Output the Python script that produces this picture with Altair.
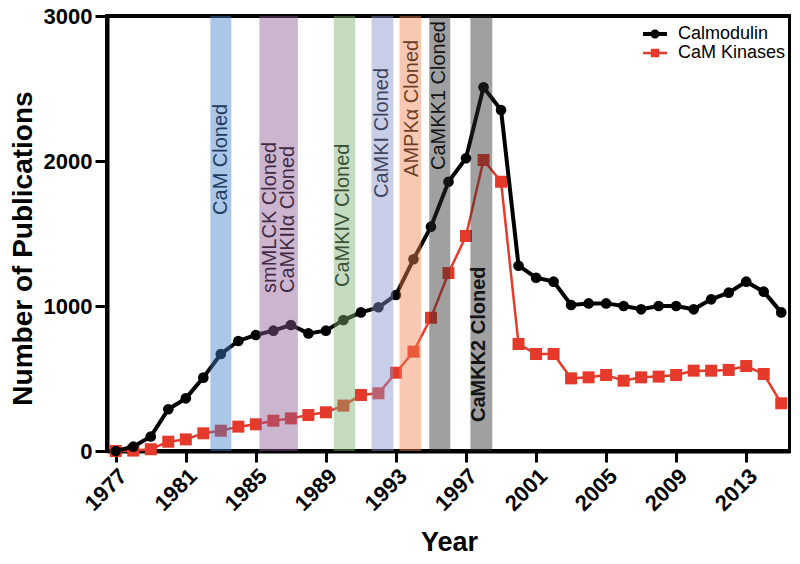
import altair as alt
import pandas as pd

# ---- data ----
years = list(range(1977, 2016))
calmodulin = [0, 30, 100, 288, 363, 506, 669, 759, 800, 830, 869, 811, 830, 903, 956, 991,
              1076, 1322, 1547, 1857, 2019, 2508, 2352, 1278, 1195, 1168, 1007, 1018, 1018,
              1000, 977, 1000, 1000, 977, 1046, 1092, 1168, 1099, 956]
cam_kinases = [0, 3, 12, 64, 80, 122, 140, 168, 184, 209, 225, 248, 267, 313, 386, 398,
               540, 685, 919, 1227, 1483, 2007, 1857, 738, 669, 669, 501, 508, 524,
               485, 508, 513, 524, 554, 554, 559, 586, 531, 329]

band_start = [1982.4, 1985.2, 1989.45, 1991.6, 1993.2, 1994.9, 1997.25]
band_end = [1983.6, 1987.4, 1990.67, 1992.85, 1994.44, 1996.1, 1998.5]
band_color = ["#4280cc", "#8b5b94", "#7eaf73", "#8592cc", "#ef8554", "#2c2c2c", "#2c2c2c"]

label_text = ["CaM Cloned", "smMLCK Cloned", "CaMKIIα Cloned", "CaMKIV Cloned",
              "CaMKI Cloned", "AMPKα Cloned", "CaMKK1 Cloned"]
label_x = [1983.0, 1985.78, 1986.81, 1989.95, 1992.23, 1993.94, 1995.48]
label_y = [1628, 1090, 1090, 1131, 1745, 1890, 1938]
bold_text = ["CaMKK2 Cloned"]
bold_x = [1997.77]
bold_y = [200]

series_names = ["Calmodulin", "CaM Kinases"]
series_colors = ["#000000", "#e53a2b"]
x_ticks = [1977, 1981, 1985, 1989, 1993, 1997, 2001, 2005, 2009, 2013]
y_ticks = [0, 1000, 2000, 3000]

FONT = "Liberation Sans"
RED = series_colors[1]

df_cal = pd.DataFrame({"Year": years, "Count": calmodulin, "Series": "Calmodulin"})
df_kin = pd.DataFrame({"Year": years, "Count": cam_kinases, "Series": "CaM Kinases"})
df_all = pd.concat([df_cal, df_kin])
df_band = pd.DataFrame({"start": band_start, "end": band_end, "color": band_color})
df_lab = pd.DataFrame({"label": label_text, "Year": label_x, "Count": label_y})
df_bold = pd.DataFrame({"label": bold_text, "Year": bold_x, "Count": bold_y})

xscale = alt.Scale(domain=[1976.5, 2015.5], nice=False, zero=False)
yscale = alt.Scale(domain=[0, 3000], nice=False)

xaxis = alt.Axis(values=x_ticks, format="d", labelAngle=-45, title="Year",
                 titleX=342, titleY=99, titleBaseline="alphabetic", titleAlign="center",
                 labelFontSize=22, labelFontWeight="bold", titleFontSize=27,
                 titleFontWeight="bold", tickSize=11, labelPadding=3, grid=False)
yaxis = alt.Axis(values=y_ticks, format="d", title="Number of Publications",
                 titleX=-76, titleY=232, titleBaseline="alphabetic", titleAlign="center",
                 titleAngle=270,
                 labelFontSize=22, labelFontWeight="bold", titleFontSize=28,
                 titleFontWeight="bold", tickSize=12, labelPadding=3, grid=False)

X = alt.X("Year:Q", scale=xscale, axis=xaxis)
Y = alt.Y("Count:Q", scale=yscale, axis=yaxis)

red_line = alt.Chart(df_kin).mark_line(color=RED, strokeWidth=2.5).encode(x=X, y=Y)
red_pts = alt.Chart(df_kin).mark_point(shape="square", filled=True, color=RED,
                                       size=144, opacity=1).encode(x=X, y=Y)
blk_line = alt.Chart(df_cal).mark_line(color="black", strokeWidth=4).encode(x=X, y=Y)
blk_pts = alt.Chart(df_cal).mark_point(shape="circle", filled=True, color="black",
                                       size=113, opacity=1).encode(x=X, y=Y)

labels = alt.Chart(df_lab).mark_text(angle=270, align="left", baseline="middle",
                                     font=FONT, fontSize=20, color="black").encode(
    x=X, y=Y, text="label:N")
bold_labels = alt.Chart(df_bold).mark_text(angle=270, align="left", baseline="middle",
                                           font=FONT, fontSize=20, fontWeight="bold",
                                           color="black").encode(
    x=X, y=Y, text="label:N")

bands = alt.Chart(df_band).mark_rect(fillOpacity=0.45, strokeWidth=0).encode(
    x=alt.X("start:Q", scale=xscale, axis=xaxis),
    x2="end:Q",
    fill=alt.Fill("color:N", scale=None),
)

circle_path = ("M-1.2,-0.2H1.2V0.2H-1.2Z "
               "M0.45,0A0.45,0.45,0,1,1,-0.45,0A0.45,0.45,0,1,1,0.45,0Z")
square_path = ("M-1.2,-0.12H1.2V0.12H-1.2Z "
               "M-0.42,-0.42H0.42V0.42H-0.42Z")

legend_layer = alt.Chart(df_all).transform_filter("false").mark_point(
    filled=True, size=400, opacity=1).encode(
    x=X, y=Y,
    color=alt.Color("Series:N", scale=alt.Scale(domain=series_names, range=series_colors),
                    legend=alt.Legend(title=None, orient="none", legendX=538, legendY=8,
                                      labelFont=FONT, labelFontSize=18, labelColor="black",
                                      symbolSize=400, symbolStrokeWidth=0, rowPadding=0,
                                      labelOffset=13, padding=0, symbolOpacity=1)),
    shape=alt.Shape("Series:N", scale=alt.Scale(domain=series_names,
                                                range=[circle_path, square_path])),
)

chart = alt.layer(
    labels, bold_labels, red_line, red_pts, blk_line, blk_pts, bands, legend_layer
).properties(
    width=683, height=435,
    background="white",
    autosize=alt.AutoSizeParams(type="none"),
    padding={"left": 99, "top": 8, "right": 1, "bottom": 105},
).configure_view(
    stroke="black", strokeWidth=4
).configure_axis(
    domainColor="black", domainWidth=4, tickColor="black", tickWidth=3,
    labelColor="black", titleColor="black", labelFont=FONT, titleFont=FONT,
    labelFlush=False, labelOverlap=False
)

chart.save("out.html", embed_options={"renderer": "svg", "actions": False})
